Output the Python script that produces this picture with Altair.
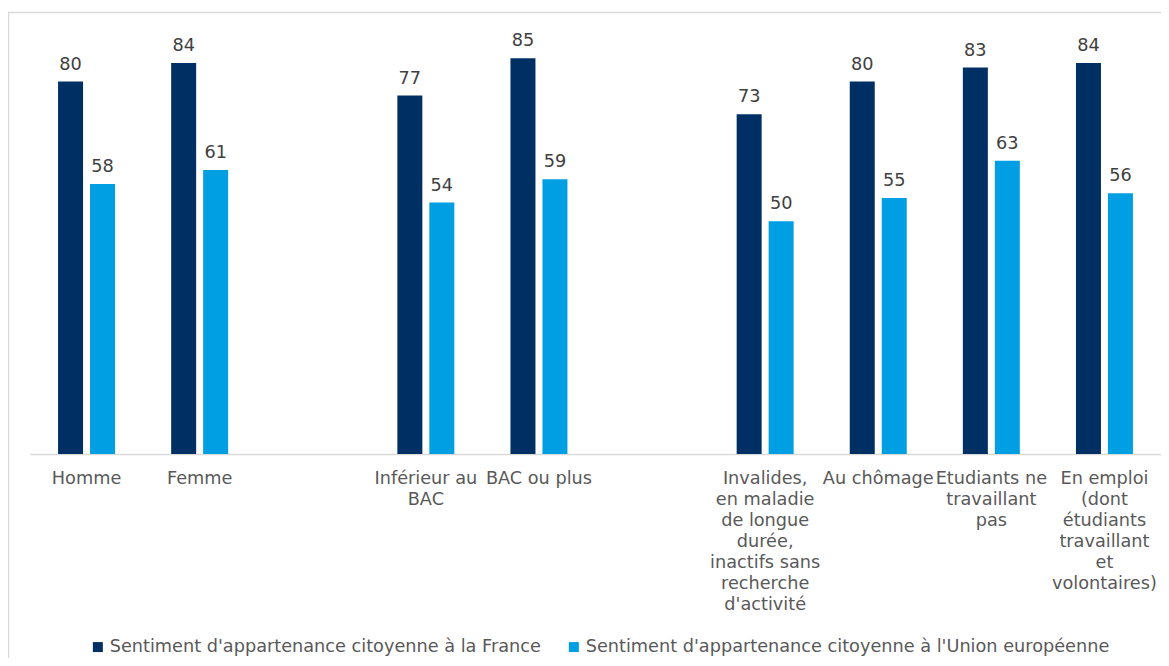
import altair as alt
import pandas as pd

categories = [
    "Homme",
    "Femme",
    " ",
    "Inférieur au|BAC",
    "BAC ou plus",
    "  ",
    "Invalides,|en maladie|de longue|durée,|inactifs sans|recherche|d'activité",
    "Au chômage",
    "Etudiants ne|travaillant|pas",
    "En emploi|(dont|étudiants|travaillant|et|volontaires)",
]
series = [
    "Sentiment d'appartenance citoyenne à la France",
    "Sentiment d'appartenance citoyenne à l'Union européenne",
]
france = [80, 84, None, 77, 85, None, 73, 80, 83, 84]
europe = [58, 61, None, 54, 59, None, 50, 55, 63, 56]
colors = ["#003063", "#009FE3"]

rows = []
for c, f, e in zip(categories, france, europe):
    if f is not None:
        rows.append({"cat": c, "serie": series[0], "val": f})
        rows.append({"cat": c, "serie": series[1], "val": e})
df = pd.DataFrame(rows)

W, H = 1131, 419
FONT = "DejaVu Sans"
GRAY = "#595959"
FS = 17.7

x = alt.X(
    "cat:N",
    sort=categories,
    scale=alt.Scale(domain=categories, paddingInner=0, paddingOuter=0),
    axis=alt.Axis(
        title=None,
        labelExpr="split(datum.label, '|')",
        labelAngle=0,
        labelFont=FONT,
        labelFontSize=FS,
        labelColor=GRAY,
        labelLineHeight=21,
        labelPadding=15,
        labelLimit=200,
        labelBaseline="top",
        ticks=False,
        domainColor="#d9d9d9",
        domainWidth=1.5,
        grid=False,
    ),
)
xo = alt.XOffset(
    "serie:N",
    sort=series,
    scale=alt.Scale(domain=series, paddingInner=0.21875, paddingOuter=0.877),
)
y = alt.Y(
    "val:Q",
    scale=alt.Scale(domain=[0, 90]),
    axis=None,
)

bars = alt.Chart(df).mark_bar().encode(
    x=x,
    xOffset=xo,
    y=y,
    color=alt.Color(
        "serie:N",
        sort=series,
        scale=alt.Scale(domain=series, range=colors),
        legend=alt.Legend(
            title=None,
            orient="none",
            legendX=59,
            legendY=603,
            direction="horizontal",
            columns=2,
            symbolType="square",
            symbolSize=100,
            symbolStrokeWidth=0,
            labelFont=FONT,
            labelFontSize=FS,
            labelColor=GRAY,
            labelLimit=600,
            labelOffset=3,
            columnPadding=24,
            padding=0,
        ),
    ),
)

labels = alt.Chart(df).mark_text(
    baseline="alphabetic", dy=-12, font=FONT, fontSize=FS, color="#404040"
).encode(x=x, xOffset=xo, y=y, text=alt.Text("val:Q"))

frame = alt.Chart(pd.DataFrame({"a": [0]})).mark_rect(
    fill="transparent", stroke="#d9d9d9", strokeWidth=1.5
).encode(
    x=alt.value(-21.5), x2=alt.value(1300), y=alt.value(-22.5), y2=alt.value(800)
)

chart = (
    alt.layer(frame, bars, labels)
    .properties(
        width=W,
        height=H,
        background="white",
        autosize=alt.AutoSizeParams(type="none"),
        padding={"left": 22, "top": 27, "right": 0, "bottom": 204},
    )
    .configure_view(strokeWidth=0, stroke="transparent")
)

chart.save("out.html", embed_options={"renderer": "svg", "actions": False})
